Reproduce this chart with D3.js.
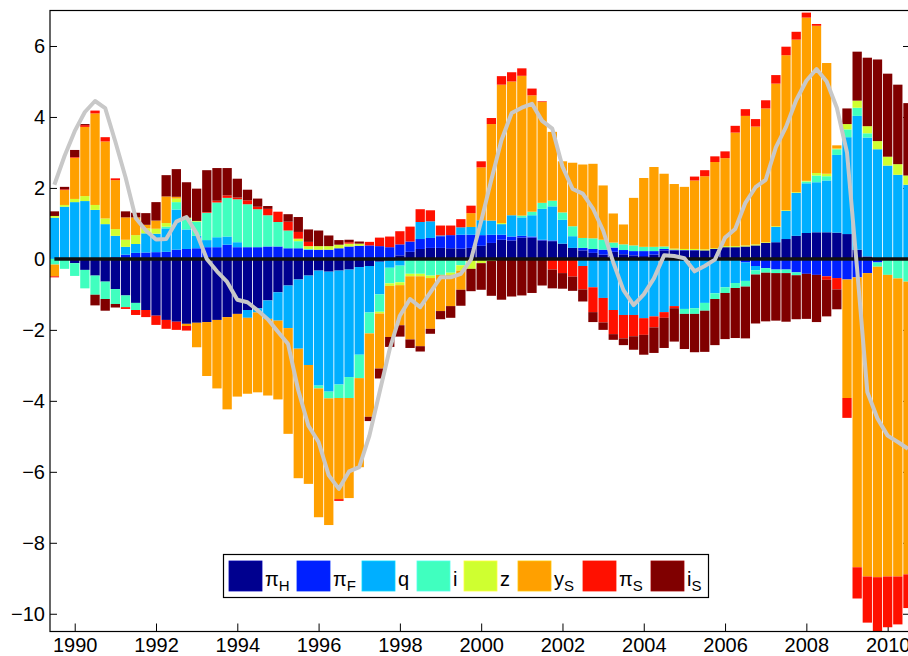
<!DOCTYPE html>
<html>
<head>
<meta charset="utf-8">
<script src="https://cdn.jsdelivr.net/npm/d3@7/dist/d3.min.js"></script>
<style>
  body { margin: 0; background: #fff; }
  svg { display: block; font-family: "Liberation Sans", Arial, Helvetica, sans-serif; }
</style>
</head>
<body>
<svg id="chart" width="908" height="656"></svg>
<script>
// quarterly decomposition, 1989Q3 .. 2010Q3
const firstQuarter = 1989.5;

const piH = [0, 0, -0.12, -0.31, -0.47, -0.64, -0.85, -1.03, -1.24, -1.44,
  -1.6, -1.72, -1.77, -1.83, -1.8, -1.78, -1.72, -1.64, -1.55, -1.44,
  -1.39, -1.17, -0.94, -0.75, -0.58, -0.47, -0.33, -0.36, -0.33, -0.3,
  -0.23, -0.2, -0.08, -0.05, 0.1, 0.2, 0.28, 0.31, 0.31, 0.3,
  0.29, 0.31, 0.37, 0.45, 0.54, 0.52, 0.6, 0.6, 0.52, 0.5,
  0.43, 0.31, 0.24, 0.17, 0.12, 0.2, 0.13, 0.1, 0.08, 0.12,
  0.24, 0.24, 0.24, 0.24, 0.24, 0.28, 0.33, 0.33, 0.35, 0.38,
  0.45, 0.47, 0.56, 0.65, 0.73, 0.75, 0.75, 0.74, 0.7, 0.26,
  0.07, 0.02, 0, 0, 0];
const piF = [0, 0, 0, 0, 0, 0, 0.05, 0.12, 0.17, 0.18,
  0.19, 0.2, 0.26, 0.28, 0.3, 0.33, 0.33, 0.4, 0.33, 0.33,
  0.33, 0.35, 0.35, 0.3, 0.3, 0.26, 0.26, 0.26, 0.3, 0.35,
  0.37, 0.38, 0.36, 0.33, 0.31, 0.29, 0.28, 0.28, 0.33, 0.37,
  0.39, 0.37, 0.3, 0.23, 0.14, 0.11, 0.05, 0.03, 0.02, 0.02,
  0, 0, 0.07, 0.11, 0.14, 0.12, 0.12, 0.12, 0.14, 0.1,
  0.04, 0.02, 0.01, 0.01, 0, 0, 0, 0, -0.1, -0.2,
  -0.26, -0.3, -0.3, -0.38, -0.42, -0.45, -0.49, -0.54, -0.58, -0.52,
  -0.4, -0.1, 0, 0, 0];
const q = [1.16, 1.47, 1.6, 1.63, 1.38, 0.98, 0.6, 0.22, 0.25, 0.54,
  0.52, 0.66, 1.13, 0.55, 0.35, 0.2, 0.28, 0.23, 0.14, -0.22,
  -0.12, -0.52, -0.8, -1.2, -1.95, -2.52, -3.24, -3.38, -3.21, -3.03,
  -2.47, -1.31, -0.92, -0.2, -0.19, 0, 0.48, 0.47, 0.02, 0,
  0.21, 0.22, 0.42, 0.4, 0.3, 0.6, 0.52, 0.6, 0.87, 0.96,
  0.67, 0.33, -0.2, -0.8, -1.1, -1.44, -1.58, -1.58, -1.67, -1.62,
  -1.5, -1.33, -1.41, -1.39, -1.24, -0.97, -0.8, -0.68, -0.52, -0.12,
  0, 0.43, 0.79, 1.21, 1.4, 1.41, 1.46, 2.19, 2.73, 3.77,
  3.35, 3.07, 2.63, 2.37, 2.09];
const iRate = [-0.16, -0.28, -0.36, -0.52, -0.54, -0.49, -0.42, -0.33, -0.2, 0,
  0, 0.05, 0.21, 0.3, 0.4, 0.77, 0.98, 1.09, 1.21, 1.21,
  1.07, 0.88, 0.69, 0.5, 0.2, 0.02, -0.08, -0.19, -0.38, -0.59,
  -0.66, -0.59, -0.49, -0.44, -0.47, -0.42, -0.42, -0.47, -0.45, -0.39,
  -0.18, 0, 0, 0, 0, 0, 0.05, 0.1, 0.17, 0.16,
  0.21, 0.28, 0.28, 0.3, 0.28, 0.14, 0.16, 0.16, 0.12, 0.12,
  0.07, 0, -0.14, -0.16, -0.22, -0.16, -0.16, -0.14, -0.16, -0.12,
  -0.13, -0.1, -0.1, -0.08, 0.05, 0.19, 0.12, 0.16, 0.22, 0.23,
  0.12, -0.12, -0.45, -0.55, -0.64];
const z = [0.05, 0.05, 0.09, 0.14, 0.14, 0.16, 0.19, 0.2, 0.25, 0.14,
  0.14, 0.1, 0.1, 0.03, 0.02, 0, 0, 0, 0, 0,
  0, 0, 0, 0, 0.07, 0.08, 0.1, 0.1, 0.1, 0.08,
  0.06, 0, -0.05, -0.07, -0.08, -0.07, -0.07, -0.07, 0, -0.06,
  -0.15, -0.28, -0.12, -0.06, 0.03, 0, 0, 0, 0, 0,
  0, 0, 0, 0, 0, 0, 0, 0, 0, 0,
  0, 0.03, 0.03, 0.03, 0.03, 0.02, 0.03, 0.03, 0.03, 0.03,
  0.02, 0.02, 0.02, 0.02, 0.02, 0.07, 0.07, 0.02, 0.15, 0.2,
  0.2, 0.23, 0.25, 0.3, 0.26];
const yS = [-0.33, 0.42, 1.16, 1.95, 2.58, 2.17, 1.38, 0.63, 0.5, 0.1,
  0.23, 0.75, 0.05, -0.06, -0.69, -1.52, -1.93, -2.6, -2.33, -2.14,
  -2.25, -2.16, -2.22, -2.98, -3.65, -3.35, -3.63, -3.57, -2.85, -2.82,
  -2.51, -2.35, -1.55, -1.44, -1.13, -1.78, -1.97, -1.43, -1.02, -0.88,
  -0.54, 0.39, 1.49, 2.72, 3.9, 3.77, 3.94, 3.28, 2.84, 1.94,
  1.44, 1.79, 2.07, 2.1, 1.53, 0.82, 0.56, 1.34, 1.94, 2.25,
  2.05, 1.82, 1.75, 1.93, 2.06, 2.43, 2.48, 3.2, 3.65, 3.32,
  3.77, 4.02, 4.37, 4.3, 4.6, 4.15, 3.12, 0.09, -3.34, -8.17,
  -8.55, -8.75, -8.5, -8.4, -8.25];
const piS = [-0.03, 0.02, 0.02, 0.05, 0.08, 0.12, 0.05, -0.05, -0.14, -0.2,
  -0.26, -0.25, -0.23, -0.13, 0, 0.02, 0.05, 0.07, 0.05, 0.11,
  0.07, 0.18, 0.29, 0.25, 0.19, 0.12, 0, 0, -0.05, 0.04,
  0, 0.1, 0.24, 0.3, 0.37, 0.42, 0.36, 0.31, 0.28, 0.27,
  0.23, 0.21, 0.17, 0.17, 0.24, 0.26, 0.21, 0.19, 0.02, -0.3,
  -0.4, -0.5, -0.66, -0.7, -0.69, -0.68, -0.66, -0.6, -0.47, -0.31,
  -0.16, -0.06, 0, 0.11, 0.17, 0.16, 0.19, 0.19, 0.19, 0.21,
  0.23, 0.24, 0.24, 0.22, 0.14, 0.05, -0.1, -0.32, -0.56, -0.88,
  -1.3, -1.6, -1.43, -1.35, -0.95];
const iS = [0.13, 0.07, 0.2, 0.03, -0.3, -0.33, -0.1, 0.17, 0.13, 0.33,
  0.52, 0.6, 0.78, 1.0, 0.91, 1.18, 0.92, 0.77, 0.53, 0.3,
  0.23, 0.08, 0, 0.21, 0.42, 0.35, 0.44, 0.3, 0.13, 0.07,
  0.06, -0.12, -0.28, -0.28, -0.32, -0.24, -0.15, -0.14, -0.23, -0.33,
  -0.45, -0.63, -0.75, -0.98, -1.15, -1.06, -1.03, -0.96, -0.75, -0.53,
  -0.44, -0.4, -0.34, -0.28, -0.21, -0.16, -0.19, -0.38, -0.56, -0.72,
  -0.85, -0.94, -0.99, -1.08, -1.16, -1.3, -1.3, -1.41, -1.46, -1.38,
  -1.37, -1.34, -1.37, -1.24, -1.27, -1.33, -1.03, -0.56, 0.44, 1.38,
  1.93, 2.3, 2.34, 2.24, 2.04];

// grey line: total deviation
const total = [2.09, 2.9, 3.6, 4.14, 4.45, 4.25, 3.3, 2.3, 1.15, 0.8,
  0.55, 0.56, 1.05, 1.18, 0.72, 0, -0.35, -0.65, -1.15, -1.22,
  -1.45, -1.7, -2.05, -2.4, -3.7, -4.7, -5.16, -6.1, -6.48, -5.99,
  -5.87, -4.98, -3.76, -2.54, -1.6, -1.13, -1.36, -0.94, -0.52, -0.52,
  -0.42, -0.02, 1.07, 2.23, 3.35, 4.11, 4.26, 4.37, 3.89, 3.67,
  2.6, 1.97, 1.84, 1.42, 0.8, -0.1, -0.88, -1.3, -1.0, -0.55,
  0.1, 0.08, 0.02, -0.35, -0.2, -0.02, 0.6, 0.84, 1.58, 2.02,
  2.23, 3.14, 3.72, 4.47, 5.02, 5.35, 5.0, 4.26, 3.0, -0.3,
  -3.75, -4.5, -4.98, -5.16, -5.35];

const seriesData = [piH, piF, q, iRate, z, yS, piS, iS];
const seriesColors = ["#00008f", "#0020ff", "#00afff", "#40ffbf", "#cfff30", "#ffa000", "#ff1000", "#800000"];
const legendMain = ["π", "π", "q", "i", "z", "y", "π", "i"];
const legendSub = ["H", "F", "", "", "", "S", "S", "S"];

const yTicks = [-10, -8, -6, -4, -2, 0, 2, 4, 6];
const xTicks = [1990, 1992, 1994, 1996, 1998, 2000, 2002, 2004, 2006, 2008, 2010];

const svg = d3.select("#chart");
const plotLeft = 50, plotRight = 910, plotTop = 10.5, plotBottom = 631.5;

const x = d3.scaleLinear().domain([1989.392, 2010.55]).range([plotLeft, plotRight]);
const y = d3.scaleLinear().domain([-10.5, 7]).range([plotBottom, plotTop]);

const quarters = d3.range(total.length).map(k => firstQuarter + k / 4);
const bw = x(firstQuarter + 0.229) - x(firstQuarter);

svg.append("defs").append("clipPath").attr("id", "plot-clip")
  .append("rect").attr("x", plotLeft).attr("y", plotTop)
  .attr("width", plotRight - plotLeft).attr("height", plotBottom - plotTop);

// ticks sit under the data, like Matlab's default layer
const yAxis = svg.append("g").attr("transform", `translate(${plotLeft},0)`)
  .call(d3.axisLeft(y).tickValues(yTicks).tickSizeInner(-7).tickSizeOuter(0).tickPadding(5));
const yAxisR = svg.append("g").attr("transform", `translate(${plotRight},0)`)
  .call(d3.axisRight(y).tickValues(yTicks).tickSizeInner(-7).tickSizeOuter(0).tickFormat(""));
const xAxis = svg.append("g").attr("transform", `translate(0,${plotBottom})`)
  .call(d3.axisBottom(x).tickValues(xTicks).tickSizeInner(-8).tickSizeOuter(0).tickPadding(6).tickFormat(d3.format("d")));

[yAxis, yAxisR, xAxis].forEach(g => {
  g.select(".domain").remove();
  g.selectAll("line").attr("stroke", "#000").attr("stroke-width", 1);
  g.selectAll("text").attr("font-size", 20).attr("fill", "#000")
    .attr("font-family", "Liberation Sans, Arial, sans-serif");
});

// stacked bars: positives up from zero, negatives down
const segments = [];
quarters.forEach((qt, k) => {
  let pos = 0, neg = 0;
  seriesData.forEach((s, si) => {
    const v = s[k];
    if (v > 0) { segments.push({ qt, si, y0: pos, y1: pos + v }); pos += v; }
    else if (v < 0) { segments.push({ qt, si, y0: neg + v, y1: neg }); neg += v; }
  });
});

const plot = svg.append("g").attr("clip-path", "url(#plot-clip)");

plot.selectAll("rect.seg")
  .data(segments)
  .enter().append("rect")
  .attr("class", "seg")
  .attr("x", d => x(d.qt) - bw / 2)
  .attr("width", bw)
  .attr("y", d => y(d.y1))
  .attr("height", d => y(d.y0) - y(d.y1))
  .attr("fill", d => seriesColors[d.si]);

plot.append("line")
  .attr("x1", x(firstQuarter)).attr("x2", plotRight)
  .attr("y1", y(0)).attr("y2", y(0))
  .attr("stroke", "#111").attr("stroke-width", 3.5);

plot.append("path")
  .datum(total)
  .attr("fill", "none")
  .attr("stroke", "#c8c8c8")
  .attr("stroke-width", 4)
  .attr("stroke-linejoin", "round")
  .attr("d", d3.line().x((d, k) => x(quarters[k])).y(d => y(d)));

// axes box
svg.append("rect")
  .attr("x", plotLeft).attr("y", plotTop)
  .attr("width", plotRight - plotLeft).attr("height", plotBottom - plotTop)
  .attr("fill", "none").attr("stroke", "#000").attr("stroke-width", 1.2);

// legend
const legendX = [229, 297, 362, 417, 464, 518, 583, 651];
const legend = svg.append("g");
legend.append("rect")
  .attr("x", 223.5).attr("y", 554.5).attr("width", 485).attr("height", 43)
  .attr("fill", "#fff").attr("stroke", "#000").attr("stroke-width", 1.2);

seriesColors.forEach((c, si) => {
  const lx = legendX[si];
  legend.append("rect")
    .attr("x", lx).attr("y", 561).attr("width", 33).attr("height", 30)
    .attr("fill", c).attr("stroke", d3.color(c).brighter(0.6)).attr("stroke-width", 0.8);
  const t = legend.append("text")
    .attr("x", lx + 36).attr("y", 586)
    .attr("font-size", 20).attr("fill", "#000")
    .text(legendMain[si]);
  if (legendSub[si]) {
    t.append("tspan").attr("font-size", 15).attr("dy", 5).text(legendSub[si]);
  }
});
</script>
</body>
</html>
